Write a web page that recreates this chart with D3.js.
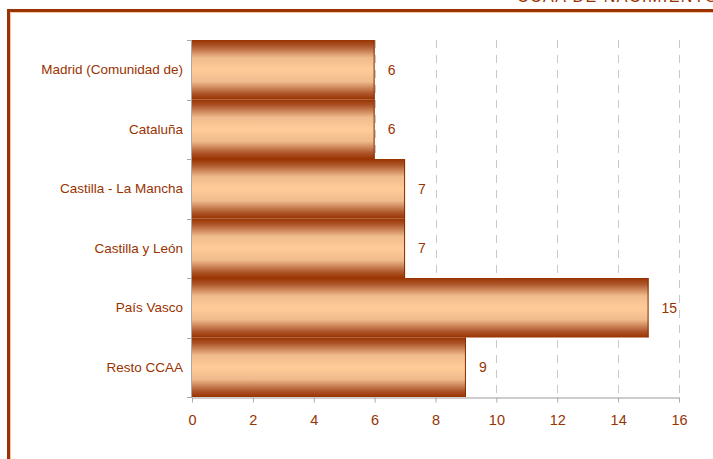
<!DOCTYPE html>
<html>
<head>
<meta charset="utf-8">
<script src="https://cdn.jsdelivr.net/npm/d3@7"></script>
<style>
  body { margin: 0; background: #fff; }
  svg { display: block; font-family: "Liberation Sans", Arial, sans-serif; }
</style>
</head>
<body>
<svg id="chart" width="713" height="459"></svg>
<script>
// data
var regions = ["Madrid (Comunidad de)", "Cataluña", "Castilla - La Mancha", "Castilla y León", "País Vasco", "Resto CCAA"];
var counts = [6, 6, 7, 7, 15, 9];
var xTicks = [0, 2, 4, 6, 8, 10, 12, 14, 16];
var title = "CCAA DE NACIMIENTO";

var brown = "#993300";
var svg = d3.select("svg#chart");

// frame of the slide, running off the right and bottom
svg.append("path")
    .attr("d", "M10.5,460 V12.5 H720")
    .attr("fill", "none")
    .attr("stroke", "#f2c4a8")
    .attr("stroke-width", 1);
svg.append("path")
    .attr("d", "M8.5,460 V10.5 H720")
    .attr("fill", "none")
    .attr("stroke", brown)
    .attr("stroke-width", 3);

// slide title, mostly above the window in the reference
svg.append("text")
    .attr("x", 517)
    .attr("y", 2)
    .attr("fill", brown)
    .attr("font-size", 16)
    .attr("letter-spacing", 1.5)
    .text(title);

var x = d3.scaleLinear().domain([0, 16]).range([192, 679]);
var y = d3.scaleBand().domain(regions).range([40, 397]).padding(0);

var grad = svg.append("defs").append("linearGradient")
    .attr("id", "barGrad")
    .attr("x1", 0).attr("y1", 0).attr("x2", 0).attr("y2", 1);
grad.selectAll("stop")
    .data([[0, "#993300"], [0.1, "#ad552a"], [0.3, "#f0bb8d"], [0.5, "#ffcc99"], [0.7, "#f0bb8d"], [0.9, "#ad552a"], [1, "#993300"]])
    .enter()
    .append("stop")
    .attr("offset", d => d[0])
    .attr("stop-color", d => d[1]);

// dashed grid lines
svg.append("g")
    .selectAll("line")
    .data(xTicks.filter(d => d > 0))
    .enter()
    .append("line")
    .attr("x1", d => Math.round(x(d)) + 0.5)
    .attr("x2", d => Math.round(x(d)) + 0.5)
    .attr("y1", 40)
    .attr("y2", 397)
    .attr("stroke", "#c8c8c8")
    .attr("stroke-dasharray", "8,7");

// bars
svg.append("g")
    .selectAll("rect")
    .data(regions)
    .enter()
    .append("rect")
    .attr("x", x(0))
    .attr("y", d => y(d))
    .attr("width", (d, i) => x(counts[i]) - x(0))
    .attr("height", y.bandwidth())
    .attr("fill", "url(#barGrad)");

svg.append("g")
    .selectAll("line")
    .data(regions)
    .enter()
    .append("line")
    .attr("x1", (d, i) => x(counts[i]) - 0.5)
    .attr("x2", (d, i) => x(counts[i]) - 0.5)
    .attr("y1", d => y(d))
    .attr("y2", d => y(d) + y.bandwidth())
    .attr("stroke", "#8a2e00")
    .attr("stroke-width", 1);

// value labels
svg.append("g")
    .selectAll("text")
    .data(regions)
    .enter()
    .append("text")
    .attr("x", (d, i) => x(counts[i]) + 13)
    .attr("y", d => y(d) + y.bandwidth() / 2 + 5)
    .attr("fill", brown)
    .attr("font-size", 14)
    .text((d, i) => counts[i]);

// x axis
var xAxis = svg.append("g")
    .attr("transform", "translate(0,397.5)")
    .call(d3.axisBottom(x).tickValues(xTicks).tickSize(5).tickPadding(12).tickSizeOuter(0));
xAxis.select(".domain").attr("stroke", "#bdbdbd").attr("stroke-width", 1.5);
xAxis.selectAll(".tick line").attr("stroke", "#a8a8a8");
xAxis.selectAll(".tick text")
    .attr("fill", brown)
    .attr("font-size", 14.5)
    .attr("font-family", "'Liberation Sans', Arial, sans-serif");

// y axis with ticks at the band edges
var yg = svg.append("g");
yg.append("line")
    .attr("x1", 191.5).attr("x2", 191.5)
    .attr("y1", 40).attr("y2", 397)
    .attr("stroke", "#a8a8a8");
yg.selectAll("line.edge")
    .data(regions.concat(["end"]))
    .enter()
    .append("line")
    .attr("class", "edge")
    .attr("x1", 187).attr("x2", 192)
    .attr("y1", (d, i) => Math.round(40 + i * y.step()) + 0.5)
    .attr("y2", (d, i) => Math.round(40 + i * y.step()) + 0.5)
    .attr("stroke", "#a8a8a8");
yg.selectAll("text")
    .data(regions)
    .enter()
    .append("text")
    .attr("x", 183)
    .attr("y", d => y(d) + y.bandwidth() / 2 + 4.5)
    .attr("text-anchor", "end")
    .attr("fill", brown)
    .attr("font-size", 13.5)
    .text(d => d);
</script>
</body>
</html>
